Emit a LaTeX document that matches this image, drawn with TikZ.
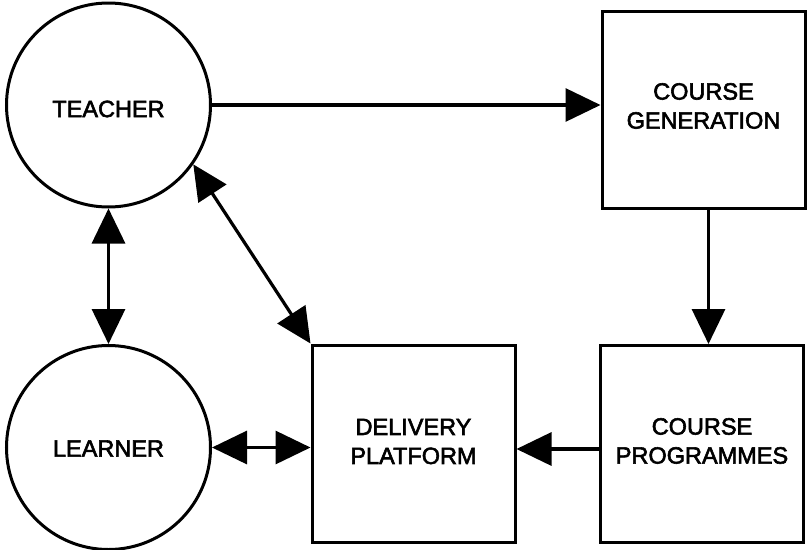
\documentclass[tikz,border=0pt]{standalone}
\usepackage{fontspec}
\setmainfont{Liberation Sans}
\newfontfamily\labelfont[FakeBold=2.5]{Liberation Sans}
\usetikzlibrary{arrows.meta}
\begin{document}
\begin{tikzpicture}[x=1pt,y=-1pt,
  every node/.style={font=\labelfont\fontsize{23.5}{29}\selectfont, align=center},
  roundnode/.style={circle, draw, line width=3pt, minimum size=204pt, inner sep=0pt},
  boxnode/.style={draw, line width=3pt, minimum width=203pt, minimum height=197pt, inner sep=0pt},
  head/.tip={Triangle[length=35pt,width=33pt]},
  link/.style={line width=3.2pt, -head},
  twoway/.style={line width=3.2pt, head-head}]
\useasboundingbox (0,0) rectangle (808,549);

% participants
\node[roundnode, label={[yshift=-4pt]center:TEACHER}] (T) at (108.5,105) {};
\node[roundnode, label={[yshift=-1pt]center:LEARNER}] (L) at (108.5,447.5) {};

% stages of the course
\node[boxnode, label={[yshift=4pt]center:COURSE\\GENERATION}] (CG) at (703.5,110) {};
\node[boxnode, label={[yshift=3pt]center:COURSE\\PROGRAMMES}] (CP) at (702,444) {};
\node[boxnode, label={[yshift=2pt]center:DELIVERY\\PLATFORM}] (DP) at (413.5,443.5) {};

% flows
\draw[link] (T.east) -- (T.east -| CG.west);
\draw[link] ([xshift=5pt]CG.south) -- ([xshift=5pt]CG.south |- CP.north);
\draw[link] ([yshift=-5pt]CP.west) -- ([yshift=-5pt]CP.west -| DP.east);
\draw[twoway] (L.east) -- (L.east -| DP.west);
\draw[twoway] (T.south) -- (L.north);
\draw[twoway] (T.-35.7) -- (DP.north west);
\end{tikzpicture}
\end{document}
